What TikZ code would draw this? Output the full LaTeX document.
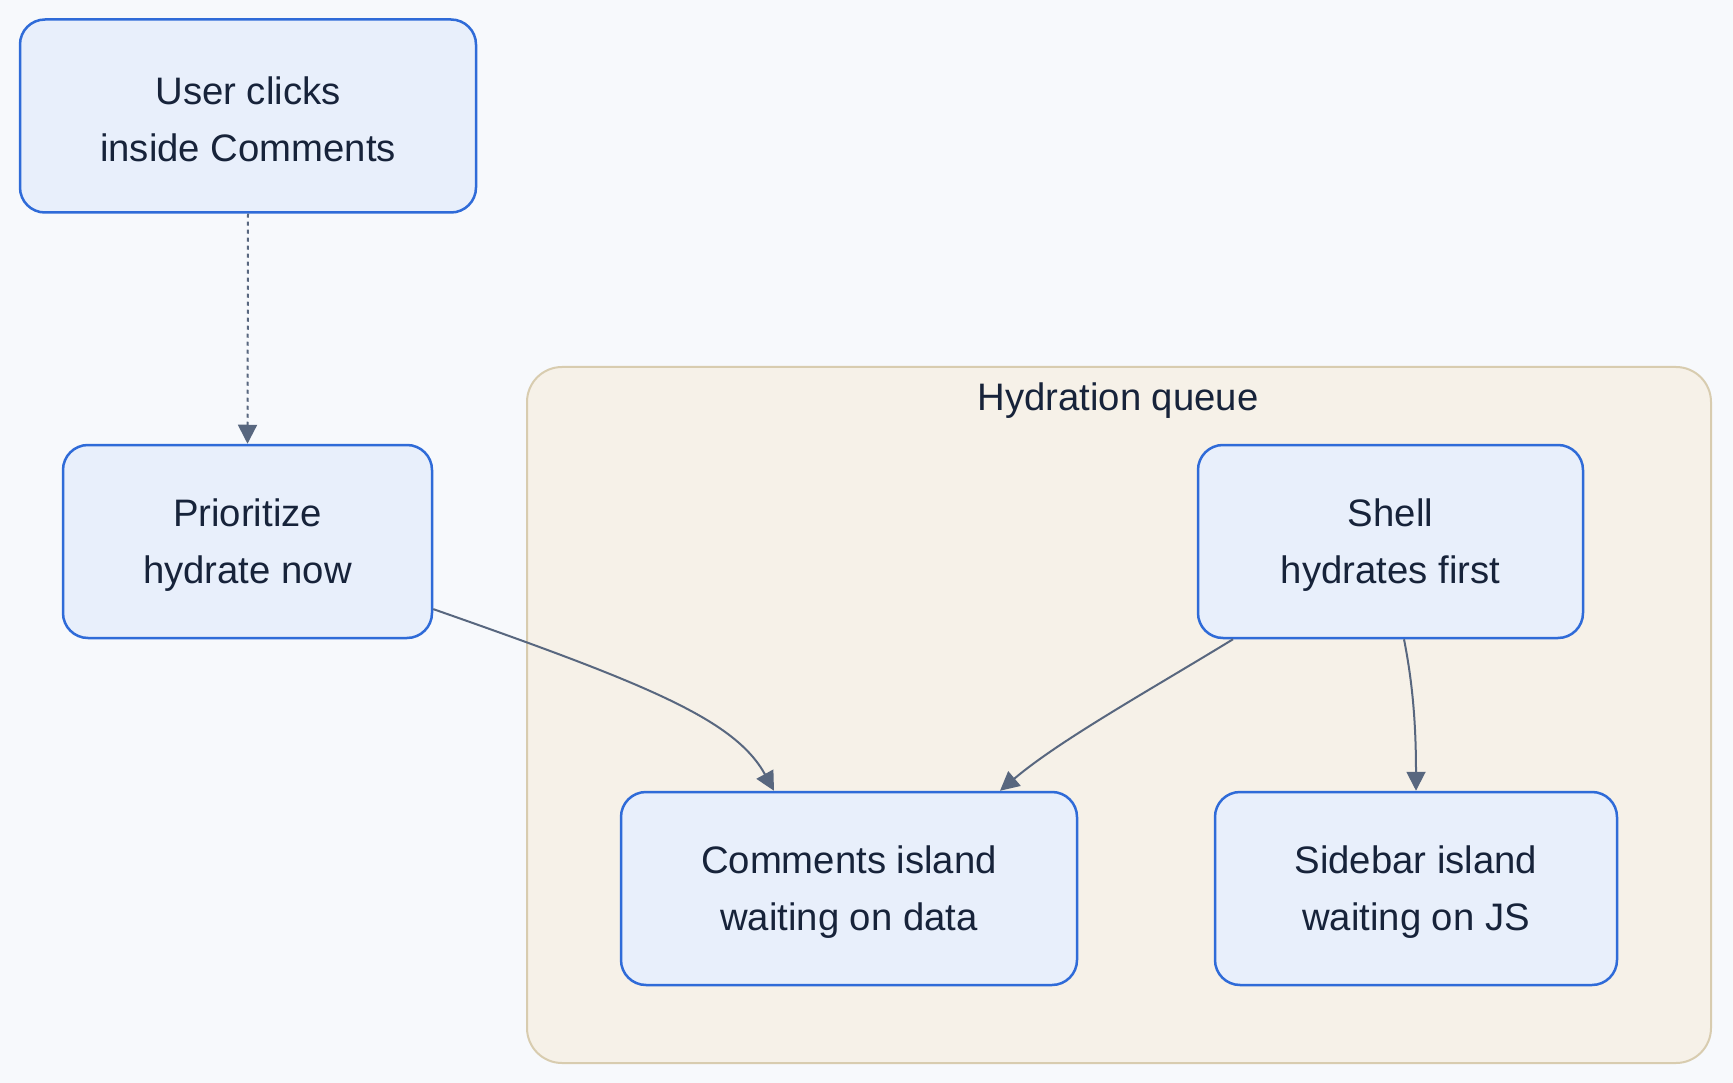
\documentclass[tikz,border=0pt]{standalone}
\usepackage{fontspec}
\setmainfont{Liberation Sans}
\usetikzlibrary{arrows.meta,calc}
\definecolor{bgc}{HTML}{F7F9FC}
\definecolor{nodefill}{HTML}{E8EFFB}
\definecolor{nodeline}{HTML}{2F6BD8}
\definecolor{txt}{HTML}{17233A}
\definecolor{edgec}{HTML}{58677F}
\definecolor{clfill}{HTML}{F6F1E8}
\definecolor{clline}{HTML}{D8CCAF}
\newcommand{\tstrut}{\rule{0pt}{34pt}}
\tikzset{
  box/.style={draw=nodeline, line width=2.5pt, fill=nodefill, rounded corners=25pt,
    align=center, text=txt, font=\fontsize{38.3}{57}\selectfont, inner sep=0pt,
    minimum height=193pt},
  conn/.style={draw=edgec, line width=2pt, -{Triangle[length=19pt,width=19pt]}},
  cluster/.style={draw=clline, line width=2pt, fill=clfill, rounded corners=35pt},
}
\begin{document}
\begin{tikzpicture}[x=1pt,y=-1pt]
\fill[bgc] (0,0) rectangle (1733,1083);
\useasboundingbox (0,0) rectangle (1733,1083);
\draw[cluster] (527,367) rectangle (1711,1063);
\node[text=txt, font=\fontsize{38.3}{57}\selectfont] (cltitle) at (1118,401) {Hydration queue};

\node[box, minimum width=456pt] (user) at (248,116) {\tstrut User clicks\\inside Comments};
\node[box, minimum width=369pt] (prio) at (247.5,541.5) {\tstrut Prioritize\\hydrate now};
\node[box, minimum width=385pt] (shell) at (1390.5,541.5) {\tstrut Shell\\hydrates first};
\node[box, minimum width=456pt] (comm) at (849,888.5) {\tstrut Comments island\\waiting on data};
\node[box, minimum width=402pt] (side) at (1416,888.5) {\tstrut Sidebar island\\waiting on JS};

\draw[conn, dash pattern=on 4pt off 4pt] (user.south) -- (prio.north);
\draw[conn] (prio.-20) .. controls (650,685) and (735,720) .. ($(comm.north)+(-75,0)$);
\draw[conn] ($(shell.south)+(-157.5,0)$) .. controls (1150,690) and (1060,740) .. ($(comm.north)+(151,0)$);
\draw[conn] ($(shell.south)+(13.5,0)$) .. controls (1412,680) and (1416,720) .. (side.north);
\end{tikzpicture}
\end{document}
